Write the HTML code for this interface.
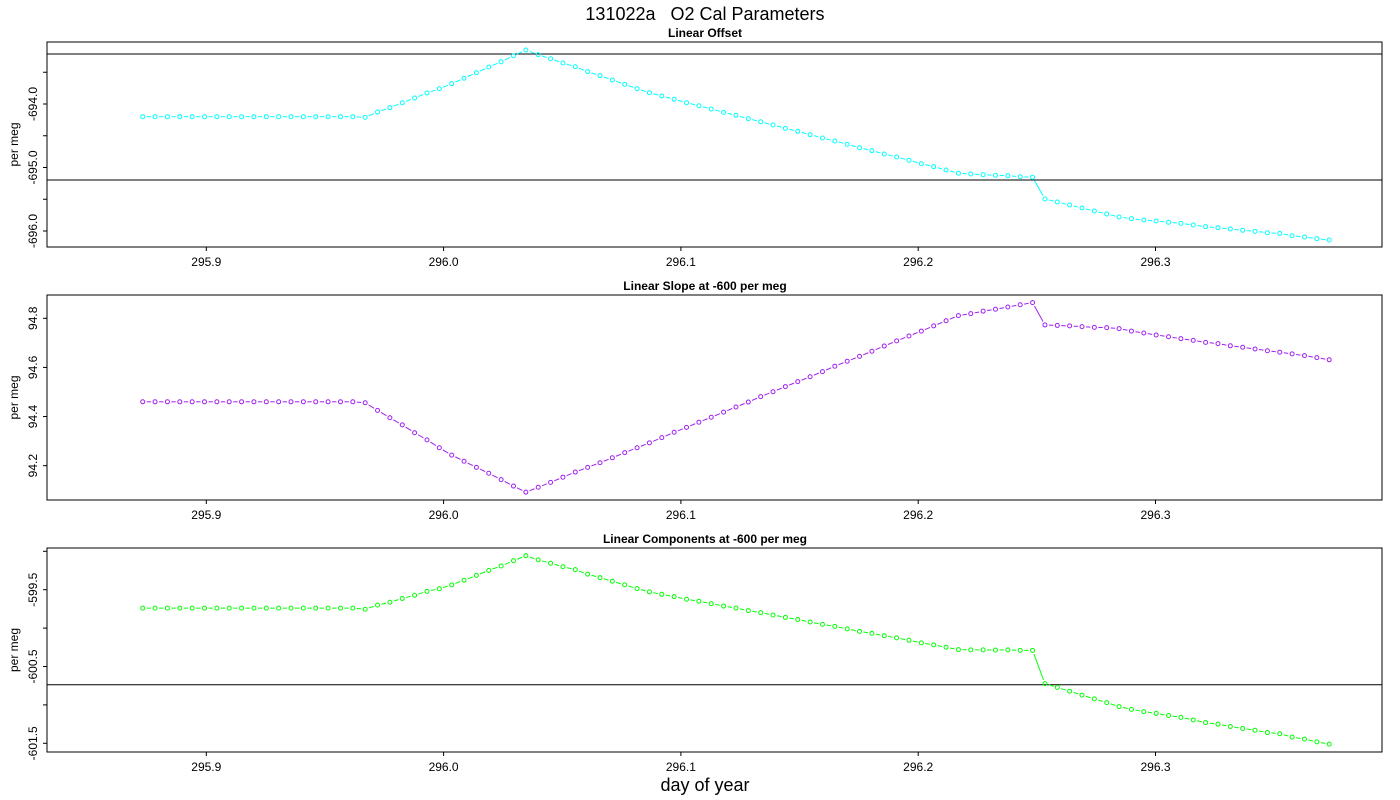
<!DOCTYPE html>
<html><head><meta charset="utf-8"><style>
body{margin:0;background:#fff;}
svg{display:block;font-family:"Liberation Sans",sans-serif;}
</style></head><body>
<svg id="chart" width="1400" height="800" viewBox="0 0 1400 800">
<text x="705" y="20" text-anchor="middle" font-size="18" style="white-space:pre" xml:space="preserve">131022a   O2 Cal Parameters</text>
<text x="705" y="791" text-anchor="middle" font-size="18">day of year</text>
</svg>
<script>
const t0 = 295.8732;
const dt = 0.0052083;
const xTicks = [295.9, 296.0, 296.1, 296.2, 296.3];
const xTickLabels = ["295.9", "296.0", "296.1", "296.2", "296.3"];
const offsetValues = [-694.200,-694.200,-694.200,-694.200,-694.200,-694.200,-694.200,-694.200,-694.200,-694.200,-694.200,-694.200,-694.200,-694.200,-694.200,-694.200,-694.200,-694.200,-694.210,-694.126,-694.058,-693.980,-693.906,-693.827,-693.760,-693.680,-693.595,-693.507,-693.417,-693.334,-693.240,-693.150,-693.224,-693.287,-693.354,-693.413,-693.491,-693.554,-693.622,-693.690,-693.759,-693.822,-693.874,-693.926,-693.980,-694.027,-694.079,-694.131,-694.178,-694.231,-694.279,-694.331,-694.383,-694.430,-694.483,-694.535,-694.583,-694.635,-694.688,-694.735,-694.787,-694.835,-694.887,-694.940,-694.987,-695.039,-695.091,-695.102,-695.113,-695.123,-695.129,-695.145,-695.154,-695.496,-695.543,-695.591,-695.638,-695.685,-695.732,-695.780,-695.806,-695.827,-695.843,-695.863,-695.879,-695.906,-695.932,-695.948,-695.969,-695.989,-696.005,-696.028,-696.037,-696.075,-696.094,-696.121,-696.142];
const slopeValues = [94.460,94.460,94.460,94.460,94.460,94.460,94.460,94.460,94.460,94.460,94.460,94.460,94.460,94.460,94.460,94.460,94.460,94.460,94.456,94.425,94.395,94.366,94.334,94.305,94.273,94.243,94.218,94.193,94.169,94.143,94.117,94.092,94.112,94.132,94.153,94.174,94.193,94.212,94.232,94.253,94.273,94.293,94.314,94.336,94.356,94.377,94.397,94.418,94.439,94.459,94.481,94.501,94.522,94.542,94.562,94.583,94.605,94.625,94.645,94.666,94.687,94.708,94.728,94.748,94.769,94.790,94.811,94.819,94.829,94.837,94.846,94.855,94.864,94.773,94.771,94.769,94.766,94.763,94.762,94.758,94.748,94.740,94.732,94.725,94.717,94.710,94.702,94.697,94.688,94.682,94.675,94.668,94.662,94.655,94.648,94.640,94.631];
const componentValues = [-599.740,-599.740,-599.740,-599.740,-599.740,-599.740,-599.740,-599.740,-599.740,-599.740,-599.740,-599.740,-599.740,-599.740,-599.740,-599.740,-599.740,-599.740,-599.754,-599.701,-599.663,-599.614,-599.572,-599.522,-599.487,-599.437,-599.377,-599.314,-599.248,-599.191,-599.123,-599.058,-599.112,-599.155,-599.201,-599.239,-599.298,-599.342,-599.390,-599.437,-599.486,-599.529,-599.560,-599.590,-599.624,-599.650,-599.682,-599.713,-599.739,-599.772,-599.798,-599.830,-599.861,-599.888,-599.921,-599.952,-599.978,-600.010,-600.043,-600.069,-600.100,-600.127,-600.159,-600.192,-600.218,-600.249,-600.280,-600.283,-600.284,-600.286,-600.283,-600.290,-600.290,-600.723,-600.772,-600.822,-600.872,-600.922,-600.970,-601.022,-601.058,-601.087,-601.111,-601.138,-601.162,-601.196,-601.230,-601.251,-601.281,-601.307,-601.330,-601.360,-601.375,-601.420,-601.446,-601.481,-601.511];
const offsetTicks = [-693.5,-694.0,-694.5,-695.0,-695.5,-696.0];
const offsetTickLabels = ["","-694.0","","-695.0","","-696.0"];
const offsetRefLines = [-693.213,-695.197];
const slopeTicks = [94.2,94.4,94.6,94.8];
const slopeTickLabels = ["94.2","94.4","94.6","94.8"];
const slopeRefLines = [];
const compTicks = [-599.0,-599.5,-600.0,-600.5,-601.0,-601.5];
const compTickLabels = ["","-599.5","","-600.5","","-601.5"];
const compRefLines = [-600.738];

const NS = "http://www.w3.org/2000/svg";
const svg = document.getElementById("chart");
const L = 47, R = 1382;
const xScale = t => 206.3 + (t - 295.9) * 2373;
function mk(tag, attrs, parent) {
  const e = document.createElementNS(NS, tag);
  for (const k in attrs) e.setAttribute(k, attrs[k]);
  (parent || svg).appendChild(e);
  return e;
}
function panel(cfg) {
  const g = mk("g", {});
  
  
  const y = v => cfg.y0 - (v - cfg.v0) * cfg.k;
  const title = mk("text", {x: 705, y: cfg.top - 5, "text-anchor": "middle", "font-size": 12, "font-weight": "bold"}, g);
  title.textContent = cfg.title;
  
  
  cfg.refs.forEach(v => {
    const l = mk("line", {x1: L, x2: R, y1: y(v), y2: y(v), stroke: "#000", "stroke-width": 1}, g);
    
    
  });
  const box = mk("rect", {x: L, y: cfg.top, width: R - L, height: cfg.bottom - cfg.top, fill: "none", stroke: "#000", "stroke-width": 1}, g);
  
  
  xTicks.forEach((t, i) => {
    const x = xScale(t);
    mk("line", {x1: x, x2: x, y1: cfg.bottom, y2: cfg.bottom + 4, stroke: "#000"}, g);
    const tx = mk("text", {x: x, y: cfg.bottom + 19, "text-anchor": "middle", "font-size": 12}, g);
    tx.textContent = xTickLabels[i];
    
    
  });
  cfg.ticks.forEach((v, i) => {
    const yy = y(v);
    mk("line", {x1: L - 4, x2: L, y1: yy, y2: yy, stroke: "#000"}, g);
    if (cfg.labels[i]) {
      const tx = mk("text", {x: 0, y: 0, "text-anchor": "middle", "font-size": 12, transform: `translate(37,${yy}) rotate(-90)`}, g);
      tx.textContent = cfg.labels[i];
      
      
    }
  });
  const yl = mk("text", {x: 0, y: 0, "text-anchor": "middle", "font-size": 12, transform: `translate(18,${(cfg.top + cfg.bottom) / 2}) rotate(-90)`}, g);
  yl.textContent = "per meg";
  
  
  const pts = cfg.data.map((v, i) => [xScale(t0 + i * dt), y(v)]);
  const gap = 4;
  for (let i = 0; i < pts.length - 1; i++) {
    const [x1, y1] = pts[i], [x2, y2] = pts[i + 1];
    const d = Math.hypot(x2 - x1, y2 - y1);
    if (d <= 2 * gap) continue;
    const ux = (x2 - x1) / d, uy = (y2 - y1) / d;
    const s = mk("line", {x1: x1 + ux * gap, y1: y1 + uy * gap, x2: x2 - ux * gap, y2: y2 - uy * gap, stroke: cfg.color, "stroke-width": 1}, g);
    
    
  }
  pts.forEach(([px, py]) => {
    const c = mk("circle", {cx: px, cy: py, r: 2, fill: "none", stroke: cfg.color, "stroke-width": 1}, g);
    
    
  });
}
panel({name: "linear-offset-panel", title: "Linear Offset", top: 42, bottom: 247, v0: -694.0, y0: 104, k: 63.5, ticks: offsetTicks, labels: offsetTickLabels, refs: offsetRefLines, data: offsetValues, color: "#00ffff"});
panel({name: "linear-slope-panel", title: "Linear Slope at -600 per meg", top: 295, bottom: 500, v0: 94.8, y0: 318.3, k: 245.6, ticks: slopeTicks, labels: slopeTickLabels, refs: slopeRefLines, data: slopeValues, color: "#a020f0"});
panel({name: "linear-components-panel", title: "Linear Components at -600 per meg", top: 548, bottom: 752, v0: -599.5, y0: 589.7, k: 76.8, ticks: compTicks, labels: compTickLabels, refs: compRefLines, data: componentValues, color: "#00ff00"});
</script>
</body></html>
